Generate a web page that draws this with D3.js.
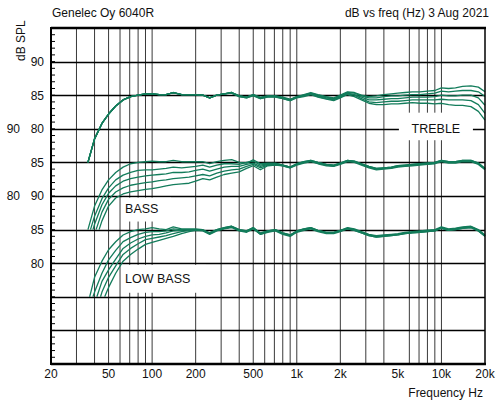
<!DOCTYPE html>
<html>
<head>
<meta charset="utf-8">
<script src="https://cdn.jsdelivr.net/npm/d3@7"></script>
<style>
  body { margin: 0; background: #fff; }
  text { font-family: Arial, "Liberation Sans", sans-serif; font-size: 12px; fill: #111; }
</style>
</head>
<body>
<svg id="chart" width="503" height="403"></svg>
<script>
// frequency grid (Hz) shared by all curves
const freqHz = [40, 45, 50, 56, 63, 71, 80, 90, 100, 112, 125, 140, 160, 180,
  200, 224, 250, 280, 315, 355, 400, 450, 500, 560, 630, 710, 800, 900, 1000, 1120, 1250, 1400, 1600, 1800, 2000,
  2240, 2500, 2800, 3150, 3550, 4000, 4500, 5000, 5600, 6300, 7100, 8000, 9000, 10000, 11200, 12500, 14000, 16000, 18000, 20000];

// each curve begins at 75 dB at these frequencies
const startDb = 75;
const trebleStartHz = [36, 36, 36, 36, 36];
const bassStartHz = [36, 37.5, 39, 41, 43];
const lowBassStartHz = [37, 39, 41.5, 44, 47];

// TREBLE settings (dB, own scale)
const trebleDb = [
  [78.5, 80.8, 82.2, 83.4, 84.3, 84.8, 85.0, 85.2, 85.2, 85.1, 85.1, 85.4, 85.1, 85.1,
   85.1, 85.0, 84.6, 85.0, 85.2, 85.4, 84.9, 84.7, 85.1, 84.7, 84.9, 84.9, 84.7, 84.4, 84.8, 85.1, 85.4, 85.1, 84.8, 84.6, 85.0,
   85.5, 85.4, 85.0, 84.8, 84.9, 85.1, 85.2, 85.3, 85.4, 85.5, 85.5, 85.6, 85.7, 86.1, 86.0, 86.1, 86.3, 86.4, 86.2, 85.5],
  [78.5, 80.8, 82.2, 83.4, 84.3, 84.8, 85.0, 85.2, 85.2, 85.1, 85.1, 85.4, 85.1, 85.1,
   85.1, 85.0, 84.6, 85.0, 85.2, 85.4, 84.9, 84.7, 85.1, 84.6, 84.9, 84.9, 84.6, 84.3, 84.8, 85.0, 85.3, 85.0, 84.7, 84.5, 84.9,
   85.4, 85.3, 84.9, 84.6, 84.6, 84.8, 84.9, 84.9, 85.0, 85.1, 85.1, 85.2, 85.3, 85.6, 85.5, 85.6, 85.7, 85.7, 85.5, 84.8],
  [78.5, 80.8, 82.2, 83.4, 84.3, 84.8, 85.0, 85.2, 85.2, 85.1, 85.1, 85.4, 85.1, 85.1,
   85.1, 85.0, 84.6, 85.0, 85.2, 85.4, 84.9, 84.7, 85.0, 84.6, 84.8, 84.8, 84.6, 84.3, 84.7, 84.9, 85.2, 84.9, 84.6, 84.4, 84.8,
   85.3, 85.1, 84.7, 84.3, 84.3, 84.4, 84.5, 84.5, 84.6, 84.7, 84.7, 84.7, 84.8, 85.0, 84.9, 84.9, 85.0, 85.0, 84.6, 83.5],
  [78.5, 80.8, 82.2, 83.4, 84.3, 84.8, 85.0, 85.2, 85.2, 85.1, 85.1, 85.4, 85.1, 85.1,
   85.1, 85.0, 84.6, 85.0, 85.2, 85.3, 84.8, 84.6, 85.0, 84.5, 84.8, 84.8, 84.5, 84.2, 84.7, 84.9, 85.2, 84.8, 84.5, 84.3, 84.7,
   85.2, 85.0, 84.5, 84.0, 83.9, 84.0, 84.1, 84.1, 84.2, 84.3, 84.3, 84.3, 84.3, 84.4, 84.3, 84.3, 84.3, 84.2, 83.6, 82.3],
  [78.5, 80.8, 82.2, 83.4, 84.3, 84.8, 85.0, 85.2, 85.2, 85.1, 85.1, 85.4, 85.1, 85.1,
   85.1, 85.0, 84.6, 85.0, 85.2, 85.3, 84.8, 84.6, 84.9, 84.5, 84.7, 84.7, 84.5, 84.2, 84.6, 84.8, 85.1, 84.7, 84.4, 84.2, 84.6,
   85.1, 84.8, 84.3, 83.8, 83.6, 83.6, 83.7, 83.7, 83.8, 83.9, 83.8, 83.8, 83.7, 83.8, 83.6, 83.5, 83.5, 83.3, 82.6, 81.3]
];

// BASS settings
const bassDb = [
  [78.5, 80.9, 82.4, 83.5, 84.3, 84.8, 85.0, 85.1, 85.2, 85.1, 85.1, 85.3, 85.1, 85.1,
   85.1, 85.1, 84.8, 85.1, 85.3, 85.4, 85.0, 84.9, 85.4, 84.8, 84.9, 84.9, 84.6, 84.3, 84.8, 85.1, 85.3, 85.0, 84.7, 84.6, 84.9,
   85.3, 85.2, 84.8, 84.4, 84.1, 84.2, 84.3, 84.5, 84.6, 84.7, 84.8, 84.9, 85.0, 85.3, 85.1, 85.1, 85.3, 85.3, 84.9, 84.1],
  [77.0, 79.6, 81.2, 82.4, 83.1, 83.5, 83.8, 83.9, 83.9, 84.0, 84.1, 84.3, 84.2, 84.3,
   84.4, 84.6, 84.3, 84.6, 84.8, 84.8, 84.7, 85.0, 85.2, 84.6, 84.8, 84.8, 84.6, 84.3, 84.8, 85.1, 85.3, 85.0, 84.7, 84.6, 84.9,
   85.3, 85.2, 84.8, 84.4, 84.1, 84.2, 84.3, 84.5, 84.6, 84.7, 84.8, 84.9, 85.0, 85.3, 85.1, 85.1, 85.3, 85.3, 84.9, 84.1],
  [75.8, 78.7, 80.4, 81.5, 82.2, 82.6, 82.8, 83.0, 83.1, 83.2, 83.3, 83.5, 83.5, 83.6,
   83.8, 84.0, 83.7, 84.0, 84.3, 84.4, 84.4, 84.7, 84.9, 84.4, 84.7, 84.8, 84.6, 84.3, 84.7, 85.0, 85.2, 84.9, 84.6, 84.5, 84.8,
   85.2, 85.1, 84.7, 84.3, 84.0, 84.1, 84.2, 84.4, 84.5, 84.6, 84.7, 84.8, 84.9, 85.2, 85.0, 85.0, 85.2, 85.2, 84.8, 84.0],
  [null, 77.6, 79.5, 80.6, 81.2, 81.6, 81.8, 82.0, 82.1, 82.3, 82.4, 82.6, 82.7, 82.8,
   83.0, 83.2, 83.0, 83.4, 83.7, 83.9, 84.0, 84.4, 84.7, 84.2, 84.6, 84.7, 84.5, 84.2, 84.7, 85.0, 85.2, 84.9, 84.6, 84.5, 84.8,
   85.2, 85.1, 84.7, 84.3, 84.0, 84.1, 84.2, 84.4, 84.5, 84.6, 84.7, 84.8, 84.9, 85.2, 85.0, 85.0, 85.2, 85.2, 84.8, 84.0],
  [null, 76.3, 78.5, 79.7, 80.3, 80.6, 80.8, 81.0, 81.1, 81.3, 81.5, 81.7, 81.8, 81.9,
   82.2, 82.6, 82.4, 82.8, 83.2, 83.4, 83.6, 84.1, 84.5, 83.9, 84.5, 84.6, 84.5, 84.2, 84.6, 84.9, 85.1, 84.8, 84.5, 84.4, 84.7,
   85.1, 85.0, 84.6, 84.2, 83.9, 84.0, 84.1, 84.3, 84.4, 84.5, 84.6, 84.7, 84.8, 85.1, 84.9, 84.9, 85.1, 85.1, 84.7, 83.9]
];

// LOW BASS settings
const lowBassDb = [
  [77.9, 80.3, 82.0, 83.2, 84.2, 84.7, 85.0, 85.1, 85.3, 85.1, 85.0, 85.4, 85.1, 85.1,
   85.1, 85.0, 84.5, 85.0, 85.3, 85.5, 85.0, 84.8, 85.3, 84.5, 84.8, 85.0, 84.5, 84.2, 84.8, 85.1, 85.3, 84.9, 84.6, 84.6, 84.9,
   85.2, 85.0, 84.6, 84.2, 84.0, 84.1, 84.2, 84.3, 84.5, 84.6, 84.7, 84.8, 84.9, 85.3, 85.0, 85.1, 85.3, 85.4, 84.9, 84.1],
  [75.7, 78.5, 80.5, 81.9, 83.2, 83.8, 84.3, 84.6, 84.7, 84.7, 84.8, 85.1, 85.0, 85.0,
   85.0, 84.9, 84.5, 85.0, 85.3, 85.5, 85.0, 84.8, 85.3, 84.4, 84.8, 85.0, 84.5, 84.2, 84.8, 85.1, 85.3, 84.9, 84.6, 84.6, 84.9,
   85.3, 85.1, 84.7, 84.3, 84.1, 84.2, 84.3, 84.4, 84.6, 84.7, 84.8, 84.9, 85.0, 85.4, 85.1, 85.2, 85.4, 85.5, 85.0, 84.2],
  [null, 77.3, 79.0, 80.6, 82.2, 83.0, 83.6, 84.0, 84.2, 84.3, 84.5, 84.8, 84.9, 85.0,
   85.0, 84.9, 84.4, 84.9, 85.2, 85.4, 84.9, 84.7, 85.2, 84.4, 84.7, 84.9, 84.4, 84.1, 84.7, 85.0, 85.2, 84.8, 84.5, 84.5, 84.8,
   85.2, 85.0, 84.6, 84.2, 84.0, 84.1, 84.2, 84.3, 84.5, 84.6, 84.7, 84.8, 84.9, 85.3, 85.0, 85.1, 85.3, 85.4, 84.9, 84.1],
  [null, 75.7, 77.9, 79.6, 81.3, 82.2, 82.9, 83.5, 83.7, 83.9, 84.1, 84.4, 84.7, 84.9,
   84.9, 84.9, 84.4, 84.9, 85.2, 85.4, 84.9, 84.7, 85.2, 84.3, 84.7, 84.9, 84.4, 84.1, 84.7, 85.0, 85.2, 84.8, 84.5, 84.5, 84.8,
   85.1, 84.9, 84.5, 84.1, 83.9, 84.0, 84.1, 84.2, 84.4, 84.5, 84.6, 84.7, 84.8, 85.2, 84.9, 85.0, 85.2, 85.3, 84.8, 84.0],
  [null, null, 76.4, 78.5, 80.3, 81.3, 82.1, 82.8, 83.1, 83.4, 83.7, 84.0, 84.4, 84.7,
   84.9, 84.8, 84.3, 84.8, 85.1, 85.3, 84.8, 84.6, 85.1, 84.3, 84.6, 84.8, 84.3, 84.0, 84.6, 84.9, 85.1, 84.7, 84.4, 84.4, 84.7,
   85.1, 84.9, 84.5, 84.1, 83.9, 84.0, 84.1, 84.2, 84.4, 84.5, 84.6, 84.7, 84.8, 85.2, 84.9, 85.0, 85.2, 85.3, 84.8, 84.0]
];

// each group is shifted down the page by this many dB
const groupShift = [0, -10, -20];

// axes
const xTickHz = [20, 50, 100, 200, 500, 1000, 2000, 5000, 10000, 20000];
const xTickLabels = ["20", "50", "100", "200", "500", "1k", "2k", "5k", "10k", "20k"];
const xGridHz = [30, 40, 50, 60, 70, 80, 90, 100, 200, 300, 400, 500, 600, 700, 800, 900,
  1000, 2000, 3000, 4000, 6000, 7000, 8000, 9000, 10000];
const yGridDb = [90, 85, 80, 75, 70, 65, 60, 55, 50];
const yTickDb = [90, 85, 80, 75, 70, 65, 60];
const yTickRight = ["90", "85", "80", "85", "90", "85", "80"];
const yTickLeft = ["", "", "90", "", "80", "", ""];

// group name labels
const groupNames = ["TREBLE", "BASS", "LOW BASS"];


const svg = d3.select("#chart");
const plotL = 51, plotR = 485, plotT = 28, plotB = 364;

const x = d3.scaleLog().domain([20, 20000]).range([plotL, plotR]);
const y = d3.scaleLinear().domain([45, 95]).range([plotB, plotT]);

// vertical grid
svg.append("g")
  .selectAll("line")
  .data(xGridHz)
  .join("line")
  .attr("x1", d => x(d)).attr("x2", d => x(d))
  .attr("y1", plotT).attr("y2", plotB)
  .attr("stroke", "#3a3a3a")
  .attr("stroke-width", 1);

// horizontal grid
svg.append("g")
  .selectAll("line")
  .data(yGridDb)
  .join("line")
  .attr("x1", plotL).attr("x2", plotR)
  .attr("y1", d => Math.round(y(d)) + 0.5).attr("y2", d => Math.round(y(d)) + 0.5)
  .attr("stroke", "#000")
  .attr("stroke-width", 1.4);

// white boxes behind the group labels (box corners in Hz / dB)
const boxes = [
  {x0: 5080, x1: 16500, top: 82.4, bot: 78.3, ty: 80, center: true},
  {x0: 62, x1: 135, top: 69.75, bot: 66.2, ty: 68.2, center: false},
  {x0: 62, x1: 235, top: 59.75, bot: 55.6, ty: 57.7, center: false}
];
boxes.forEach((b, i) => {
  svg.append("rect")
    .attr("x", x(b.x0)).attr("y", y(b.top))
    .attr("width", x(b.x1) - x(b.x0)).attr("height", y(b.bot) - y(b.top))
    .attr("fill", "#fff");
  svg.append("text")
    .attr("x", b.center ? (x(b.x0) + x(b.x1)) / 2 : x(b.x0) + 3)
    .attr("y", y(b.ty) + 4.5)
    .attr("text-anchor", b.center ? "middle" : "start")
    .style("font-size", "12.5px")
    .text(groupNames[i]);
});

// curves
const line = d3.line()
  .x(d => x(d[0]))
  .y(d => y(d[1]));

const groups = [
  {vals: trebleDb, starts: trebleStartHz},
  {vals: bassDb, starts: bassStartHz},
  {vals: lowBassDb, starts: lowBassStartHz}
];

groups.forEach((g, gi) => {
  g.vals.forEach((vals, si) => {
    const pts = [[g.starts[si], startDb + groupShift[gi]]];
    freqHz.forEach((f, i) => {
      if (vals[i] != null) pts.push([f, vals[i] + groupShift[gi]]);
    });
    svg.append("path")
      .attr("d", line(pts))
      .attr("fill", "none")
      .attr("stroke", "#137c5b")
      .attr("stroke-width", 1.3)
      .attr("stroke-linejoin", "round");
  });
});

// frame
svg.append("line").attr("x1", plotL).attr("x2", plotL).attr("y1", plotT - 1).attr("y2", plotB + 1)
  .attr("stroke", "#000").attr("stroke-width", 2);
svg.append("line").attr("x1", plotL).attr("x2", plotR + 1).attr("y1", plotT).attr("y2", plotT)
  .attr("stroke", "#000").attr("stroke-width", 2.5);
svg.append("line").attr("x1", plotL).attr("x2", plotR + 1).attr("y1", plotB).attr("y2", plotB)
  .attr("stroke", "#000").attr("stroke-width", 2.5);
svg.append("line").attr("x1", plotR).attr("x2", plotR).attr("y1", plotT).attr("y2", plotB)
  .attr("stroke", "#000").attr("stroke-width", 1.5);

// minor ticks every dB on the left edge
svg.append("g")
  .selectAll("line")
  .data(d3.range(46, 95))
  .join("line")
  .attr("x1", plotL).attr("x2", plotL + 4)
  .attr("y1", d => y(d)).attr("y2", d => y(d))
  .attr("stroke", "#000").attr("stroke-width", 1);

// y tick labels (two columns)
svg.append("g").selectAll("text")
  .data(yTickDb)
  .join("text")
  .attr("x", 44).attr("y", d => y(d) + 4.3)
  .attr("text-anchor", "end")
  .text((d, i) => yTickRight[i]);
svg.append("g").selectAll("text")
  .data(yTickDb)
  .join("text")
  .attr("x", 20).attr("y", d => y(d) + 4.3)
  .attr("text-anchor", "end")
  .text((d, i) => yTickLeft[i]);

// x tick labels
svg.append("g").selectAll("text")
  .data(xTickHz)
  .join("text")
  .attr("x", d => x(d)).attr("y", 378)
  .attr("text-anchor", "middle")
  .text((d, i) => xTickLabels[i]);

// titles
svg.append("text").attr("x", 52).attr("y", 17).text("Genelec Oy 6040R");
svg.append("text").attr("x", 489).attr("y", 17).attr("text-anchor", "end").text("dB vs freq (Hz) 3 Aug 2021");
svg.append("text").attr("x", 483).attr("y", 397).attr("text-anchor", "end").text("Frequency Hz");
svg.append("text").attr("transform", "translate(25,61) rotate(-90)").text("dB SPL");
</script>
</body>
</html>
